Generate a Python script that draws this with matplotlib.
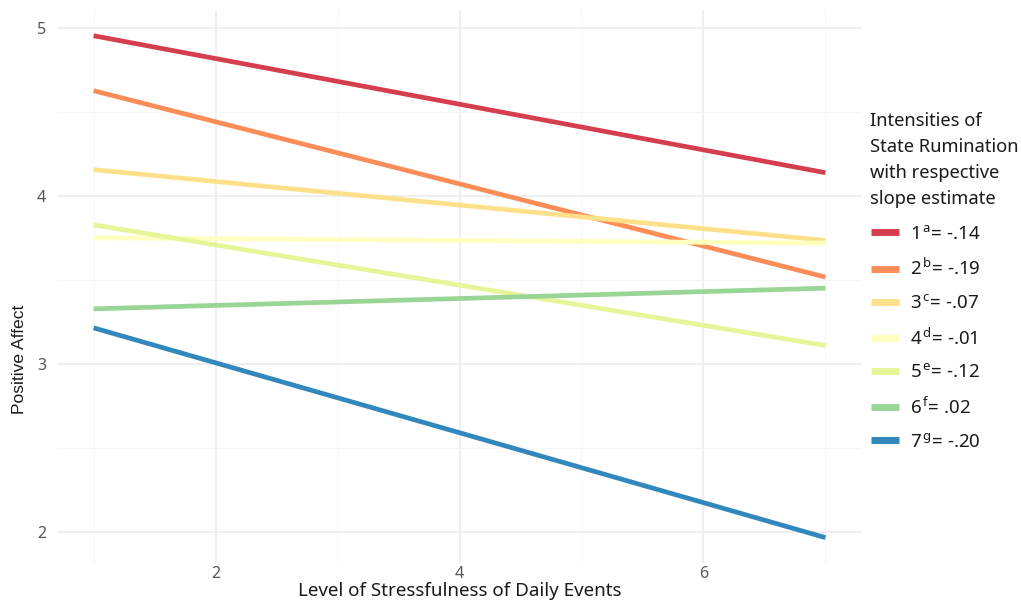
import matplotlib
matplotlib.use("Agg")
import matplotlib.pyplot as plt
from matplotlib.ticker import MultipleLocator

# Data
x_start, x_end = 1, 7
levels = ["1", "2", "3", "4", "5", "6", "7"]
sups = ["a", "b", "c", "d", "e", "f", "g"]
slopes = ["-.14", "-.19", "-.07", "-.01", "-.12", ".02", "-.20"]
y_start = [4.952, 4.625, 4.155, 3.750, 3.827, 3.327, 3.214]
y_end = [4.137, 3.516, 3.734, 3.718, 3.109, 3.450, 1.966]
colors = ["#D53E4F", "#FC8D59", "#FEE08B", "#FFFFBF", "#E6F598", "#99D594", "#3288BD"]
legend_title = "Intensities of\nState Rumination\nwith respective\nslope estimate"

plt.rcParams["font.family"] = ["Noto Sans", "DejaVu Sans"]
plt.rcParams["mathtext.fontset"] = "custom"
plt.rcParams["mathtext.rm"] = "Noto Sans"
plt.rcParams["mathtext.it"] = "Noto Sans"

W, H = 1021, 604
fig = plt.figure(figsize=(W / 100, H / 100), dpi=100)
ax = fig.add_axes([57 / W, 1 - 563 / H, (862 - 57) / W, (563 - 10) / H])

for lev, sp, sl, y0, y1, c in zip(levels, sups, slopes, y_start, y_end, colors):
    ax.plot([x_start, x_end], [y0, y1], color=c, lw=3.4, solid_capstyle="butt",
            label=f"{lev}$^{{\\,{sp}}}$= {sl}")

ax.set_xlim(0.7, 7.3)
ax.set_ylim(1.815, 5.105)
ax.xaxis.set_major_locator(MultipleLocator(2))
ax.xaxis.set_minor_locator(MultipleLocator(1))
ax.yaxis.set_major_locator(MultipleLocator(1))
ax.yaxis.set_minor_locator(MultipleLocator(0.5))
ax.grid(which="major", color="#ebebeb", lw=1.1)
ax.grid(which="minor", color="#f4f4f4", lw=0.6)
ax.set_axisbelow(True)
for s in ax.spines.values():
    s.set_visible(False)
ax.tick_params(which="both", length=0)
ax.tick_params(axis="both", labelsize=11.5, labelcolor="#555555")
ax.tick_params(axis="x", pad=2)
ax.tick_params(axis="y", pad=8)

fig.text(459.5 / W, 1 - 591 / H, "Level of Stressfulness of Daily Events",
         fontsize=13.5, color="#1a1a1a", ha="center", va="center")
fig.text(19 / W, 1 - 359 / H, "Positive Affect", family="Liberation Sans",
         fontsize=12.6, color="#1a1a1a", ha="center", va="center", rotation=90)

fig.text(870 / W, 1 - 112 / H, legend_title, fontsize=13.2, color="#1a1a1a",
         ha="left", va="top", linespacing=1.57)

leg = fig.legend(loc="upper left", bbox_to_anchor=(871 / W, 1 - 225 / H),
                 bbox_transform=fig.transFigure, frameon=False,
                 fontsize=13.5, handlelength=1.5, handletextpad=0.6,
                 labelspacing=0.8, borderpad=0, borderaxespad=0)
for t in leg.get_texts():
    t.set_color("#1a1a1a")
for h in leg.get_lines():
    h.set_linewidth(5)

fig.savefig("out.png", dpi=100, facecolor="white")
